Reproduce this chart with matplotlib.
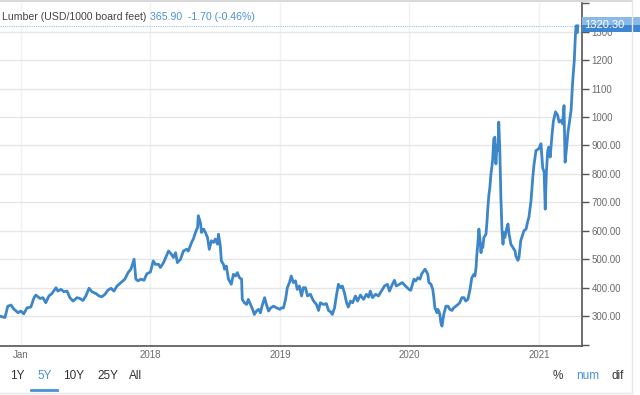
import numpy as np
import pandas as pd
import matplotlib
matplotlib.use("Agg")
import matplotlib.pyplot as plt
import matplotlib.transforms as mtransforms
from matplotlib.patches import Rectangle
from matplotlib.lines import Line2D

plt.rcParams['font.family'] = ['Liberation Sans', 'DejaVu Sans']

# Lumber price, USD per 1000 board feet
dates = [
    "2016-11-03", "2016-11-17", "2016-11-25", "2016-12-04", "2016-12-12", "2016-12-24",
    "2017-01-01", "2017-01-09", "2017-01-18", "2017-01-29", "2017-02-07", "2017-02-12",
    "2017-02-24", "2017-03-04", "2017-03-12", "2017-03-21", "2017-03-29", "2017-04-10",
    "2017-04-15", "2017-04-24", "2017-05-02", "2017-05-11", "2017-05-19", "2017-05-28",
    "2017-06-08", "2017-06-16", "2017-06-25", "2017-07-03", "2017-07-12", "2017-07-20",
    "2017-08-01", "2017-08-09", "2017-08-17", "2017-08-26", "2017-09-03", "2017-09-12",
    "2017-09-20", "2017-09-29", "2017-10-10", "2017-10-21", "2017-10-30", "2017-11-07",
    "2017-11-16", "2017-11-21", "2017-11-27", "2017-12-05", "2017-12-14", "2017-12-22",
    "2018-01-01", "2018-01-09", "2018-01-15", "2018-01-24", "2018-01-29", "2018-02-07",
    "2018-02-15", "2018-02-21", "2018-03-01", "2018-03-07", "2018-03-13", "2018-03-18",
    "2018-03-27", "2018-04-04", "2018-04-13", "2018-04-18", "2018-04-27", "2018-05-02",
    "2018-05-08", "2018-05-14", "2018-05-16", "2018-05-22", "2018-05-25", "2018-05-31",
    "2018-06-05", "2018-06-11", "2018-06-16", "2018-06-22", "2018-06-28", "2018-07-03",
    "2018-07-09", "2018-07-12", "2018-07-17", "2018-07-20", "2018-07-26", "2018-07-29",
    "2018-08-03", "2018-08-09", "2018-08-17", "2018-08-23", "2018-08-29", "2018-09-03",
    "2018-09-09", "2018-09-15", "2018-09-17", "2018-09-23", "2018-09-29", "2018-10-04",
    "2018-10-10", "2018-10-16", "2018-10-21", "2018-10-27", "2018-11-02", "2018-11-07",
    "2018-11-13", "2018-11-19", "2018-11-24", "2018-11-30", "2018-12-06", "2018-12-14",
    "2018-12-23", "2019-01-01", "2019-01-05", "2019-01-11", "2019-01-17", "2019-01-22",
    "2019-01-28", "2019-02-02", "2019-02-08", "2019-02-14", "2019-02-19", "2019-02-25",
    "2019-03-03", "2019-03-08", "2019-03-14", "2019-03-20", "2019-03-28", "2019-04-05",
    "2019-04-14", "2019-04-20", "2019-04-25", "2019-05-04", "2019-05-12", "2019-05-18",
    "2019-05-24", "2019-05-29", "2019-06-04", "2019-06-10", "2019-06-15", "2019-06-21",
    "2019-06-26", "2019-07-02", "2019-07-08", "2019-07-13", "2019-07-19", "2019-07-25",
    "2019-08-02", "2019-08-08", "2019-08-16", "2019-08-25", "2019-09-02", "2019-09-08",
    "2019-09-13", "2019-09-19", "2019-09-28", "2019-10-06", "2019-10-14", "2019-10-23",
    "2019-10-31", "2019-11-06", "2019-11-14", "2019-11-20", "2019-11-25", "2019-12-04",
    "2019-12-12", "2019-12-21", "2019-12-31", "2020-01-05", "2020-01-14", "2020-01-19",
    "2020-01-25", "2020-01-31", "2020-02-05", "2020-02-14", "2020-02-19", "2020-02-22",
    "2020-02-25", "2020-03-02", "2020-03-07", "2020-03-10", "2020-03-13", "2020-03-19",
    "2020-03-21", "2020-03-24", "2020-03-27", "2020-03-30", "2020-04-02", "2020-04-04",
    "2020-04-07", "2020-04-13", "2020-04-19", "2020-04-24", "2020-04-30", "2020-05-05",
    "2020-05-11", "2020-05-17", "2020-05-22", "2020-05-28", "2020-06-03", "2020-06-08",
    "2020-06-14", "2020-06-20", "2020-06-25", "2020-07-01", "2020-07-04", "2020-07-07",
    "2020-07-09", "2020-07-12", "2020-07-15", "2020-07-18", "2020-07-21", "2020-07-23",
    "2020-07-26", "2020-07-29", "2020-08-04", "2020-08-07", "2020-08-09", "2020-08-12",
    "2020-08-15", "2020-08-18", "2020-08-21", "2020-08-23", "2020-08-26", "2020-08-29",
    "2020-09-01", "2020-09-04", "2020-09-07", "2020-09-09", "2020-09-12", "2020-09-15",
    "2020-09-18", "2020-09-21", "2020-09-23", "2020-09-26", "2020-09-29", "2020-10-02",
    "2020-10-05", "2020-10-08", "2020-10-10", "2020-10-13", "2020-10-19", "2020-10-25",
    "2020-10-27", "2020-11-02", "2020-11-05", "2020-11-08", "2020-11-10", "2020-11-19",
    "2020-11-25", "2020-11-30", "2020-12-03", "2020-12-09", "2020-12-14", "2020-12-17",
    "2020-12-23", "2020-12-31", "2021-01-06", "2021-01-11", "2021-01-15", "2021-01-18",
    "2021-01-21", "2021-01-25", "2021-01-28", "2021-02-01", "2021-02-06", "2021-02-10",
    "2021-02-16", "2021-02-22", "2021-02-26", "2021-03-04", "2021-03-08", "2021-03-12",
    "2021-03-15", "2021-03-19", "2021-03-23", "2021-03-27", "2021-04-01", "2021-04-05",
    "2021-04-10", "2021-04-13", "2021-04-15", "2021-04-18", "2021-04-20",
]
prices = [
    300, 295, 335, 339, 325, 312,
    318, 308, 329, 332, 365, 374,
    362, 365, 347, 371, 379, 400,
    388, 394, 386, 388, 365, 353,
    365, 362, 355, 371, 398, 386,
    379, 371, 368, 377, 391, 398,
    388, 406, 418, 430, 453, 465,
    500, 430, 424, 430, 426, 449,
    455, 494, 482, 482, 471, 488,
    512, 529, 518, 506, 523, 488,
    500, 529, 535, 529, 559, 571,
    594, 612, 653, 629, 594, 606,
    594, 576, 535, 565, 559, 571,
    553, 588, 547, 494, 482, 465,
    476, 430, 412, 447, 441, 453,
    435, 430, 359, 347, 341, 359,
    341, 324, 306, 318, 324, 312,
    341, 365, 341, 318, 329, 335,
    329, 324, 329, 329, 359, 400,
    418, 441, 418, 424, 394, 406,
    371, 400, 400, 371, 377, 355,
    341, 320, 347, 341, 344, 320,
    315, 306, 329, 377, 412, 400,
    406, 382, 347, 332, 353, 347,
    371, 353, 374, 359, 377, 367,
    388, 365, 377, 371, 388, 406,
    412, 388, 412, 426, 406, 412,
    418, 406, 394, 391, 430, 424,
    435, 430, 449, 465, 455, 447,
    418, 412, 394, 365, 329, 312,
    324, 318, 306, 276, 265, 282,
    306, 335, 335, 324, 320, 329,
    335, 341, 347, 365, 365, 353,
    359, 394, 435, 447, 441, 471,
    512, 553, 606, 571, 523, 553,
    541, 576, 588, 635, 676, 724,
    753, 800, 829, 853, 923, 929,
    835, 900, 882, 982, 882, 718,
    606, 553, 594, 576, 594, 612,
    624, 588, 576, 553, 541, 529,
    512, 496, 506, 541, 565, 600,
    606, 635, 647, 706, 788, 829,
    882, 888, 906, 820, 806, 676,
    800, 880, 894, 859, 935, 985,
    1018, 1006, 982, 988, 976, 1040,
    841, 890, 945, 980, 1024, 1118,
    1200, 1285, 1320, 1296, 1320.3,
]
last_price = 1320.30
y_ticks = [300, 400, 500, 600, 700, 800, 900, 1000, 1100, 1200, 1300]
year_ticks = ["2017-01-01", "2018-01-01", "2019-01-01", "2020-01-01", "2021-01-01"]
year_labels = ["Jan", "2018", "2019", "2020", "2021"]

blue = '#3d86c9'
grey_txt = '#6b6b6b'

x = pd.to_datetime(dates)

fig = plt.figure(figsize=(6.4, 3.95), dpi=100)
ax = fig.add_axes([0, 0.124, 0.909, 0.868])

ax.plot(x, prices, color=blue, lw=2.0, solid_joinstyle='round', zorder=3)
ax.axhline(last_price, color='#9cc2e8', lw=0.8, ls=(0, (1, 1)), zorder=2)

ax.set_xlim(pd.Timestamp("2016-11-03"), pd.Timestamp("2021-05-01"))
ax.set_ylim(195, 1400)

# y axis on the right
ax.yaxis.tick_right()
ax.set_yticks(y_ticks)
ax.set_yticks([200, 1400], minor=True)
ax.set_yticklabels([f"{v:.2f}" if v < 1000 else f"{v}" for v in y_ticks])
ax.tick_params(axis='y', which='both', length=5, width=1, color='#555555',
               pad=2, labelsize=7, labelcolor=grey_txt, direction='out')
ax.set_xticks(pd.to_datetime(year_ticks))
ax.set_xticklabels(year_labels)
ax.tick_params(axis='x', length=0, pad=3, labelsize=7, labelcolor=grey_txt)

ax.grid(axis='y', color='#e6e6e6', lw=1)
ax.grid(axis='x', color='#eef2f6', lw=1)
ax.set_axisbelow(True)

for s in ['top', 'left']:
    ax.spines[s].set_visible(False)
ax.spines['right'].set_color('#555555')
ax.spines['bottom'].set_color('#555555')
ax.spines['right'].set_linewidth(1.2)
ax.spines['bottom'].set_linewidth(1.2)

# last price label on the right axis (lighter top half, darker bottom half)
trans = mtransforms.blended_transform_factory(ax.transAxes, ax.transData)
ax.add_patch(Rectangle((1.0, last_price + 4), 0.1, 27, transform=trans,
                       facecolor='#8bb9e6', edgecolor='none', clip_on=False, zorder=5))
ax.add_patch(Rectangle((1.0, last_price - 23), 0.1, 27, transform=trans,
                       facecolor='#3f86d0', edgecolor='none', clip_on=False, zorder=5))
ax.text(1.0045, last_price + 4, f"{last_price:.2f}", transform=trans, ha='left', va='center',
        color='white', fontsize=8, zorder=6, clip_on=False)

# header
t1 = fig.text(0.003, 1 - 17 / 395, "Lumber (USD/1000 board feet)", fontsize=7.6,
              color='#444444', va='center', ha='left',
              bbox=dict(fc='white', ec='none', pad=0.5))
ax.annotate("365.90  -1.70 (-0.46%)", xy=(1, 0.5), xycoords=t1,
            xytext=(3, 0), textcoords='offset points', va='center', ha='left',
            fontsize=7.6, color='#4a90d9', annotation_clip=False)

# range buttons
buttons = ["1Y", "5Y", "10Y", "25Y", "All"]
bx = [10, 37, 63, 97, 129]
for lab, xx in zip(buttons, bx):
    fig.text(xx / 640, 1 - 376 / 395, lab, fontsize=8.5, va='center', ha='left',
             color='#4a90d9' if lab == "5Y" else '#333333')
fig.add_artist(Line2D([31 / 640, 57 / 640], [1 - 390 / 395] * 2, color='#4a90d9', lw=2))

for lab, xx in zip(["%", "num", "dif"], [553, 576, 612]):
    fig.text(xx / 640, 1 - 376 / 395, lab, fontsize=8.5, va='center', ha='left',
             color='#4a90d9' if lab == "num" else '#333333')

# widget borders
fig.add_artist(Line2D([0, 632 / 640], [1 - 1 / 395] * 2, color='#d9d9d9', lw=1.5))
fig.add_artist(Line2D([632 / 640] * 2, [1 - 393 / 395, 1], color='#e6e6e6', lw=1))
fig.add_artist(Line2D([0, 632 / 640], [1 - 393 / 395] * 2, color='#e6e6e6', lw=1))

fig.savefig("out.png", dpi=100)
